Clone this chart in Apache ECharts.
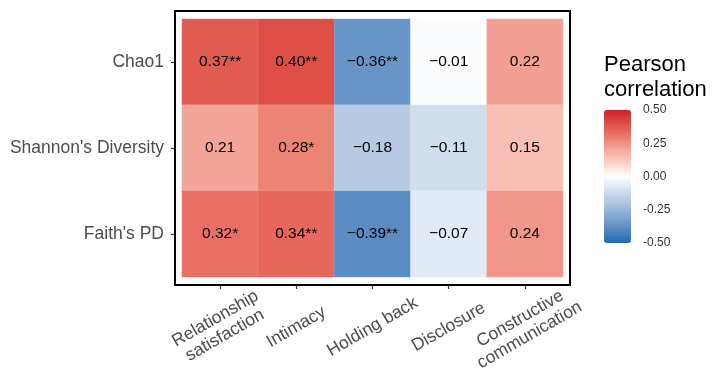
<!DOCTYPE html>
<html>
<head>
<meta charset="utf-8">
<script src="https://cdn.jsdelivr.net/npm/echarts@6/dist/echarts.min.js"></script>
<style>
  html, body { margin: 0; padding: 0; background: #fff; }
  #main { width: 719px; height: 383px; }
</style>
</head>
<body>
<div id="main"></div>
<script>
var traits = ['Relationship\nsatisfaction', 'Intimacy', 'Holding back', 'Disclosure', 'Constructive\ncommunication'];
var metrics = ['Chao1', "Shannon's Diversity", "Faith's PD"];

// pearson r per metric (row), one value per trait
var chao1 = [0.37, 0.40, -0.36, -0.01, 0.22];
var shannon = [0.21, 0.28, -0.18, -0.11, 0.15];
var faith = [0.32, 0.34, -0.39, -0.07, 0.24];

// significance stars
var chao1Sig = ['**', '**', '**', '', ''];
var shannonSig = ['', '*', '', '', ''];
var faithSig = ['*', '**', '**', '', ''];

var rows = [chao1, shannon, faith];
var sigs = [chao1Sig, shannonSig, faithSig];

var cells = [];
for (var r = 0; r < rows.length; r++) {
  for (var c = 0; c < traits.length; c++) {
    cells.push([c, r, rows[r][c], sigs[r][c]]);
  }
}

var font = 'Liberation Sans, Arial, sans-serif';

var chart = echarts.init(document.getElementById('main'));

var option = {
  backgroundColor: '#fff',
  animation: false,
  textStyle: { fontFamily: font },
  title: {
    text: 'Pearson\ncorrelation',
    left: 604,
    top: 52,
    padding: 0,
    textStyle: { fontSize: 22, lineHeight: 25, fontWeight: 'normal', color: '#000', fontFamily: font }
  },
  grid: [
    // panel border
    { left: 175, top: 11, width: 395, height: 274, show: true, borderColor: '#000', borderWidth: 2, backgroundColor: 'transparent' },
    // tiles
    { left: 182, top: 19, width: 381, height: 258 },
    // colour bar ticks
    { left: 604, top: 110, width: 27, height: 133 }
  ],
  xAxis: [
    { gridIndex: 0, type: 'value', show: false },
    {
      gridIndex: 1,
      type: 'category',
      data: traits,
      offset: 8,
      axisLine: { show: false },
      axisTick: { show: true, length: 4, alignWithLabel: true, lineStyle: { color: '#333', width: 1.2 } },
      axisLabel: {
        interval: 0,
        rotate: 30,
        align: 'center',
        verticalAlign: 'middle',
        margin: 42,
        fontSize: 17.5,
        lineHeight: 19,
        color: '#4d4d4d',
        fontFamily: font
      },
      splitLine: { show: false }
    },
    { gridIndex: 2, type: 'value', show: false }
  ],
  yAxis: [
    { gridIndex: 0, type: 'value', show: false },
    {
      gridIndex: 1,
      type: 'category',
      data: metrics,
      inverse: true,
      offset: 7,
      axisLine: { show: false },
      axisTick: { show: true, length: 4, alignWithLabel: true, lineStyle: { color: '#333', width: 1.2 } },
      axisLabel: { margin: 11, fontSize: 17.5, color: '#4d4d4d', fontFamily: font },
      splitLine: { show: false }
    },
    {
      gridIndex: 2,
      type: 'value',
      position: 'right',
      min: -0.5,
      max: 0.5,
      interval: 0.25,
      axisLine: { show: false },
      axisTick: { show: true, inside: true, length: 5, lineStyle: { color: '#fff', width: 1 } },
      axisLabel: {
        margin: 12,
        fontSize: 12,
        color: '#333',
        padding: [5, 0, 0, 0],
        fontFamily: font,
        formatter: function (v) { return v.toFixed(2); }
      },
      splitLine: { show: false }
    },
    {
      gridIndex: 2,
      type: 'value',
      position: 'left',
      min: -0.5,
      max: 0.5,
      interval: 0.25,
      axisLine: { show: false },
      axisTick: { show: true, inside: true, length: 5, lineStyle: { color: '#fff', width: 1 } },
      axisLabel: { show: false },
      splitLine: { show: false }
    }
  ],
  visualMap: {
    type: 'continuous',
    seriesIndex: 0,
    dimension: 2,
    min: -0.5,
    max: 0.5,
    left: 604,
    top: 110,
    itemWidth: 27,
    itemHeight: 133,
    padding: 0,
    calculable: false,
    hoverLink: false,
    showLabel: false,
    text: null,
    z: 1,
    inRange: {
      color: ['#1f6cb0', '#5589c1', '#83a8d1', '#afc4e0', '#d5e1f0', '#ffffff',
              '#fcd2ca', '#f5aa9e', '#eb796c', '#de4e44', '#cb2030']
    }
  },
  series: [
    {
      type: 'heatmap',
      xAxisIndex: 1,
      yAxisIndex: 1,
      data: cells,
      itemStyle: { borderColor: 'rgba(255,255,255,0.25)', borderWidth: 0.5 },
      label: {
        show: true,
        color: '#000',
        fontSize: 15.5,
        fontFamily: font,
        formatter: function (p) {
          var v = p.data[2];
          var s = Math.abs(v).toFixed(2);
          return (v < 0 ? '\u2212' : '') + s + p.data[3];
        }
      }
    }
  ]
};

chart.setOption(option);
window.addEventListener('resize', chart.resize);
</script>
</body>
</html>
